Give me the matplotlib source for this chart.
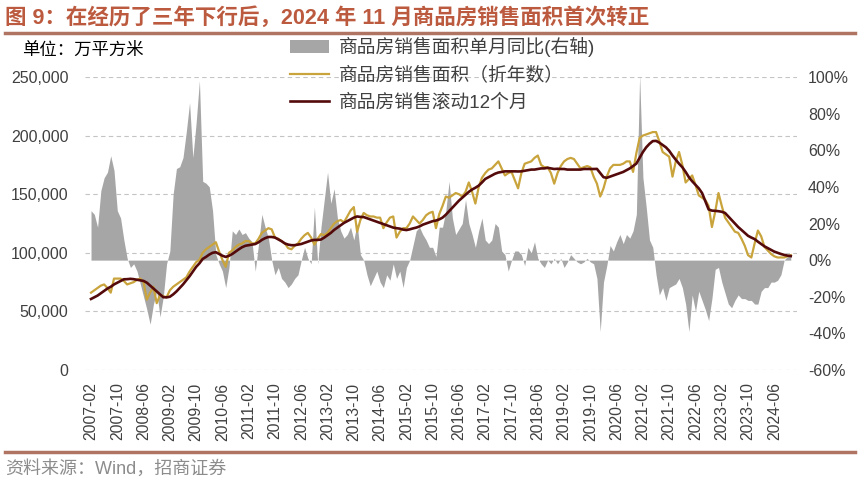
"""Commodity housing sales area: annualized, rolling 12m and monthly YoY."""
import matplotlib
matplotlib.use('Agg')
import matplotlib.pyplot as plt
from matplotlib.lines import Line2D
from matplotlib.ticker import FuncFormatter

plt.rcParams['font.family'] = ['Liberation Sans', 'Noto Sans CJK SC']

# monthly index 2007-02 .. 2024-11
months = []
for y in range(2007, 2025):
    for m in range(1, 13):
        if (y == 2007 and m < 2) or (y == 2024 and m > 11):
            continue
        months.append(f'{y}-{m:02d}')

# 商品房销售面积单月同比 (%), right axis
yoy = [
    27, 25, 18, 38, 45, 48, 57, 49, 27, 23, 11,                     # 2007
    1, -4, -2, -6, -13, -20, -27, -35, -24, -17, -31, -20,          # 2008
    -2, 5, 36, 50, 51, 56, 70, 86, 56, 75, 98, 43,                  # 2009
    42, 40, 27, 3, -2, -6, -15, -4, 16, 14, 17, 14,                 # 2010
    15, 12, 10, -6, 9, 25, 18, 12, 0, -8, -4, -10,                  # 2011
    -12, -15, -13, -10, -8, 0, 7, 1, -2, 29, -2, 18,                # 2012
    33, 48, 31, 39, 23, 16, 12, 14, 18, 11, 20, 3,                  # 2013
    0, -8, -14, -10, -6, -12, -15, -8, -11, -2, -10, -6,            # 2014
    -15, -4, 0, 8, 16, 18, 14, 11, 7, 7, 2, 18,                     # 2015
    18, 27, 43, 23, 14, 17, 20, 33, 20, 14, 7, 16,                  # 2016
    23, 11, 9, 11, 20, 18, 5, 3, -6, 0, 5, 5,                       # 2017
    3, -3, 7, 4, 10, 1, -2, -4, 0, -2, 1, -2,                       # 2018
    1, -4, -1, 3, 1, -1, -2, -1, 1, -1, -2, -10,                    # 2019
    -39, -12, -3, 8, 5, 10, 14, 9, 14, 12, 16, 25,                  # 2020
    101, 45, 29, 11, 7, -8, -19, -15, -22, -15, -14, -13,           # 2021
    -10, -15, -24, -39, -19, -28, -17, -22, -27, -33, -21, -5,      # 2022
    -4, -12, -18, -24, -26, -22, -19, -21, -21, -22, -22, -24,      # 2023
    -24, -17, -15, -15, -12, -12, -11, -8, 0, 2, 3,                 # 2024
]

# 商品房销售面积（折年数）, 万平方米 (thousands)
annualized = [
    66, 68, 70, 72, 73, 70, 66, 78, 78, 78, 76,                     # 2007
    73, 74, 75, 77, 78, 75, 60, 66, 71, 57, 64, 63,                 # 2008
    62, 68, 71, 73, 75, 77, 79, 84, 88, 92, 94, 100,                # 2009
    103, 105, 107, 109, 101, 94, 88, 100, 102, 105, 107, 108,       # 2010
    110, 110, 108, 108, 112, 117, 119, 121, 120, 113, 112, 110,     # 2011
    108, 104, 103, 106, 108, 112, 115, 117, 113, 107, 112, 116,     # 2012
    115, 117, 121, 125, 127, 128, 126, 131, 136, 139, 118, 128,     # 2013
    134, 132, 131, 131, 130, 130, 121, 126, 130, 131, 113, 118,     # 2014
    121, 121, 125, 131, 128, 125, 128, 132, 134, 135, 121, 133,     # 2015
    140, 148, 147, 149, 151, 150, 148, 152, 160, 152, 142, 156,     # 2016
    164, 168, 171, 172, 175, 178, 172, 166, 168, 169, 162, 155,     # 2017
    168, 176, 177, 178, 181, 183, 175, 173, 173, 168, 159, 168,     # 2018
    174, 178, 180, 181, 180, 176, 172, 173, 174, 173, 165, 159,     # 2019
    148, 155, 165, 172, 175, 175, 175, 176, 178, 178, 169, 185,     # 2020
    198, 200, 201, 202, 203, 203, 195, 186, 184, 182, 165, 178,     # 2021
    186, 175, 160, 163, 166, 158, 149, 147, 145, 140, 122, 135,     # 2022
    151, 140, 130, 126, 122, 118, 117, 112, 106, 98, 96, 108,       # 2023
    119, 114, 105, 102, 99, 97, 96, 96, 96, 97, 98,                 # 2024
]

# 商品房销售滚动12个月, 万平方米 (thousands)
rolling12 = [
    60.6, 62, 63.5, 65.5, 67.5, 69.5, 71, 73, 74.5, 76, 77.4,                       # 2007
    77.5, 77.8, 77.5, 77, 76.5, 76, 74.5, 72, 69.5, 67, 64.5, 62.1,                 # 2008
    62, 62.5, 64.5, 67, 70, 73, 76.5, 80, 84, 88, 91, 94.8,                         # 2009
    96.5, 98.5, 100, 100.5, 99, 97.5, 96.5, 97.5, 99, 101, 103, 104.8,              # 2010
    106, 106.5, 107, 107.5, 109, 111, 112.5, 113.5, 113.5, 113, 111.5, 109.9,       # 2011
    108, 107, 106.5, 106.5, 107, 107.5, 108.5, 109.5, 110.5, 111, 111, 111.3,       # 2012
    113, 115, 117, 119.5, 121.5, 123.5, 125.5, 127, 128.5, 130, 131, 130.6,         # 2013
    130.5, 129.5, 128.5, 127.5, 126.5, 125.5, 124.5, 123.5, 122.5, 121.5, 121, 120.6,  # 2014
    119.8, 119.4, 120, 120.8, 121.5, 122.5, 124, 125, 126, 127, 127.5, 128.5,       # 2015
    130, 132.5, 135.5, 138.5, 141.5, 144.5, 147, 149.5, 152, 154, 155.5, 157.3,     # 2016
    160, 163, 164.5, 166, 167.5, 168.5, 169, 169.5, 169.5, 169.5, 169.5, 169.4,     # 2017
    169.5, 170, 170.5, 171, 171, 171.5, 172, 172, 172.5, 172, 171.5, 171.7,         # 2018
    171.5, 171.5, 171, 171, 171, 171, 171, 171.5, 171.5, 171.5, 171.5, 171.6,       # 2019
    168, 164.5, 164, 165, 166, 167, 168, 169, 170.5, 172, 174, 176.1,               # 2020
    181, 186, 190, 193, 195.3, 195.5, 194, 192, 190, 187, 183, 179.4,               # 2021
    176, 173, 169, 164.5, 161, 158, 155, 151, 144, 137, 136, 135.8,                 # 2022
    135.5, 135, 134, 131, 128, 125, 122, 119.5, 117, 114.5, 113, 111.7,             # 2023
    109.5, 107.5, 105.5, 104, 102.5, 101, 100, 99, 98.2, 97.6, 97.2,                # 2024
]

x = list(range(len(months)))
tick_idx = x[::8]
tick_labels = [months[i] for i in tick_idx]

GRAY = '#A6A6A6'
GOLD = '#C9A43C'
MAROON = '#540A0A'
TXT = '#404040'

fig = plt.figure(figsize=(8.59, 4.84), dpi=100)
W, H = 859, 484
ax = fig.add_axes([85 / W, 1 - 370 / H, (797 - 85) / W, (370 - 77) / H])
ax.set_xlim(-1.83, 214.9)
ax.set_ylim(0, 250000)
ax.set_yticks(range(0, 250001, 50000))
ax.yaxis.set_major_formatter(FuncFormatter(lambda v, p: f'{int(v):,}'))
ax.yaxis.grid(True, linestyle=(0, (4, 3)), color='#C4C4C4', linewidth=0.8)
ax.set_xticks(tick_idx)
ax.set_xticklabels(tick_labels, rotation=90)
ax.tick_params(axis='both', length=0, labelsize=11.5, labelcolor=TXT)
ax.tick_params(axis='y', pad=12)
ax.tick_params(axis='x', pad=9, labelsize=11.3)
for s in ax.spines.values():
    s.set_visible(False)

ax2 = ax.twinx()
ax2.fill_between(x, 0, yoy, color=GRAY, linewidth=0, label='商品房销售面积单月同比(右轴)')
ax2.set_ylim(-60, 100)
ax2.set_yticks(range(-60, 101, 20))
ax2.yaxis.set_major_formatter(FuncFormatter(lambda v, p: f'{int(v)}%'))
ax2.tick_params(axis='y', length=0, labelsize=11.5, labelcolor=TXT, pad=8)
for s in ax2.spines.values():
    s.set_visible(False)

ax3 = ax.twinx()
ax3.set_ylim(0, 250000)
ax3.plot(x, [v * 1000 for v in annualized], color=GOLD, linewidth=1.6,
         label='商品房销售面积（折年数）')
ax3.plot(x, [v * 1000 for v in rolling12], color=MAROON, linewidth=1.9,
         label='商品房销售滚动12个月')
ax3.set_axis_off()

handles = ax2.get_legend_handles_labels()[0] + ax3.get_legend_handles_labels()[0]
labels = ax2.get_legend_handles_labels()[1] + ax3.get_legend_handles_labels()[1]
fig.legend(handles, labels, loc='upper left', bbox_to_anchor=(290 / W, 1 - 37 / H),
           frameon=False, fontsize=13.5, handlelength=2.1, handletextpad=0.5,
           labelspacing=0.5, borderpad=0, borderaxespad=0, labelcolor=TXT)

fig.text(5 / W, 1 - 18 / H, '图 9：在经历了三年下行后，2024 年 11 月商品房销售面积首次转正',
         color='#BC5A3F', fontsize=15.5, fontweight='bold', va='center', ha='left')
fig.add_artist(Line2D([5 / W, 855 / W], [1 - 33 / H, 1 - 33 / H], color='#B07562', linewidth=2.5))
fig.text(22 / W, 1 - 50 / H, '单位：万平方米', color='black', fontsize=12.5, va='center')
fig.add_artist(Line2D([5 / W, 855 / W], [1 - 452 / H, 1 - 452 / H], color='#B07562', linewidth=2.5))
fig.text(5 / W, 1 - 469 / H, '资料来源：Wind，招商证券', color='#8C8C8C', fontsize=13, va='center')

fig.savefig('out.png', dpi=100)
